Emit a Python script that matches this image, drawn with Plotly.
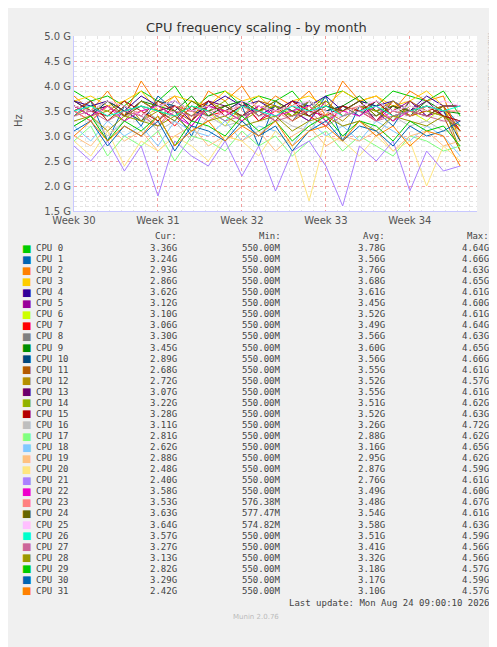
import plotly.graph_objects as go

# days since start of week 30, one sample every ~1.4 days
days = [i * 1.4 for i in range(24)]

names = ["CPU %d" % i for i in range(32)]
colors = ["#00CC00", "#0066B3", "#FF8000", "#FFCC00", "#330099", "#990099", "#CCFF00", "#FF0000",
          "#808080", "#008F00", "#00487D", "#B35A00", "#B38F00", "#6B006B", "#8FB300", "#B30000",
          "#BEBEBE", "#80FF80", "#80C9FF", "#FFC080", "#FFE680", "#AA80FF", "#EE00CC", "#FF8080",
          "#666600", "#FFBFFF", "#00FFCC", "#CC6699", "#999900", "#00CC00", "#0066B3", "#FF8000"]

# GHz
cpu_vals = [
    [3.9, 3.7, 3.8, 3.6, 3.9, 3.7, 4.0, 3.5, 3.8, 3.9, 3.6, 3.8, 3.7, 3.9, 3.5, 3.8, 3.9, 3.7, 3.6, 3.9, 3.8, 3.7, 3.9, 3.4],
    [3.4, 3.7, 2.9, 3.6, 3.2, 3.8, 3.5, 3.0, 3.7, 3.4, 3.6, 2.8, 3.7, 3.5, 3.3, 3.8, 2.9, 3.6, 3.5, 3.2, 3.7, 3.4, 3.6, 3.2],
    [3.8, 3.5, 3.9, 3.4, 4.1, 3.6, 3.8, 3.3, 3.9, 3.7, 4.0, 3.5, 3.8, 3.6, 3.9, 3.4, 4.1, 3.7, 3.8, 3.5, 3.9, 3.7, 3.8, 2.9],
    [3.7, 3.8, 3.6, 3.7, 3.9, 3.5, 3.8, 3.7, 3.6, 3.9, 3.7, 3.8, 3.5, 3.7, 3.8, 3.6, 3.9, 3.7, 3.8, 3.6, 3.7, 3.9, 3.6, 2.9],
    [3.7, 3.6, 3.7, 3.5, 3.8, 3.6, 3.7, 3.5, 3.6, 3.8, 3.6, 3.7, 3.5, 3.7, 3.6, 3.8, 3.5, 3.7, 3.6, 3.7, 3.5, 3.8, 3.6, 3.6],
    [3.5, 3.7, 3.3, 3.6, 3.4, 3.7, 3.5, 3.2, 3.6, 3.4, 3.7, 3.3, 3.6, 3.5, 3.3, 3.7, 3.4, 3.6, 3.3, 3.5, 3.7, 3.4, 3.5, 3.1],
    [3.6, 3.4, 3.7, 3.5, 3.3, 3.6, 3.4, 3.7, 3.5, 3.2, 3.6, 3.5, 3.7, 3.4, 3.6, 3.3, 3.5, 3.7, 3.4, 3.6, 3.5, 3.3, 3.6, 3.1],
    [3.5, 3.3, 3.6, 3.4, 3.7, 3.5, 3.2, 3.6, 3.4, 3.5, 3.7, 3.3, 3.5, 3.6, 3.4, 3.2, 3.6, 3.5, 3.3, 3.7, 3.4, 3.5, 3.6, 3.1],
    [3.6, 3.4, 3.7, 3.5, 3.6, 3.3, 3.7, 3.5, 3.4, 3.6, 3.7, 3.4, 3.6, 3.5, 3.7, 3.3, 3.6, 3.5, 3.4, 3.7, 3.5, 3.6, 3.4, 3.3],
    [3.7, 3.5, 3.6, 3.4, 3.7, 3.6, 3.5, 3.8, 3.4, 3.6, 3.7, 3.5, 3.6, 3.4, 3.7, 3.5, 3.6, 3.8, 3.5, 3.6, 3.4, 3.7, 3.5, 3.45],
    [3.6, 3.4, 3.7, 3.5, 3.3, 3.7, 3.6, 3.4, 3.6, 3.5, 3.7, 3.4, 3.6, 3.3, 3.7, 3.5, 3.6, 3.4, 3.7, 3.5, 3.4, 3.6, 3.5, 2.9],
    [3.5, 3.7, 3.3, 3.6, 3.4, 3.7, 3.5, 3.3, 3.6, 3.5, 3.4, 3.7, 3.6, 3.3, 3.5, 3.7, 3.4, 3.6, 3.5, 3.3, 3.7, 3.5, 3.4, 2.7],
    [3.6, 3.4, 3.5, 3.7, 3.3, 3.5, 3.6, 3.4, 3.7, 3.5, 3.3, 3.6, 3.5, 3.4, 3.7, 3.5, 3.3, 3.6, 3.5, 3.7, 3.4, 3.5, 3.6, 2.7],
    [3.7, 3.5, 3.6, 3.4, 3.7, 3.5, 3.6, 3.3, 3.7, 3.6, 3.4, 3.6, 3.5, 3.7, 3.4, 3.6, 3.5, 3.7, 3.3, 3.6, 3.5, 3.7, 3.4, 3.1],
    [3.4, 3.6, 3.5, 3.3, 3.7, 3.5, 3.4, 3.6, 3.5, 3.7, 3.3, 3.5, 3.6, 3.4, 3.5, 3.7, 3.4, 3.6, 3.5, 3.3, 3.6, 3.5, 3.4, 3.2],
    [3.6, 3.5, 3.4, 3.7, 3.5, 3.3, 3.6, 3.5, 3.7, 3.4, 3.6, 3.5, 3.3, 3.7, 3.5, 3.4, 3.6, 3.5, 3.7, 3.4, 3.5, 3.6, 3.4, 3.3],
    [3.2, 3.4, 3.0, 3.3, 3.5, 3.1, 3.3, 2.9, 3.4, 3.2, 3.3, 3.0, 3.4, 3.2, 3.1, 3.5, 3.2, 3.3, 3.0, 3.4, 3.2, 3.3, 3.1, 3.1],
    [2.9, 3.2, 2.6, 3.0, 2.8, 3.1, 2.5, 3.0, 2.9, 2.7, 3.1, 2.8, 3.0, 2.6, 2.9, 3.1, 2.7, 3.0, 2.8, 2.6, 3.0, 2.9, 2.7, 2.8],
    [3.2, 2.9, 3.3, 3.0, 3.2, 2.8, 3.3, 3.1, 3.0, 3.3, 2.9, 3.2, 3.1, 2.8, 3.3, 3.0, 3.2, 2.9, 3.3, 3.1, 2.9, 3.2, 3.0, 2.6],
    [3.0, 2.8, 3.2, 2.9, 3.1, 2.7, 3.0, 3.2, 2.8, 3.0, 2.9, 3.1, 2.7, 3.0, 3.2, 2.8, 3.0, 2.9, 3.1, 2.7, 3.0, 3.1, 2.8, 2.9],
    [2.9, 2.6, 3.1, 2.4, 2.9, 2.7, 3.0, 2.8, 2.5, 3.0, 2.9, 2.6, 3.1, 2.8, 1.7, 3.0, 2.9, 2.6, 3.0, 2.7, 2.9, 2.0, 2.8, 2.5],
    [2.8, 2.5, 2.9, 2.3, 2.8, 1.8, 2.9, 2.6, 2.4, 2.9, 2.2, 2.8, 1.9, 2.7, 2.9, 2.4, 1.6, 2.8, 2.5, 2.9, 1.9, 2.7, 2.3, 2.4],
    [3.6, 3.4, 3.6, 3.3, 3.5, 3.6, 3.4, 3.2, 3.6, 3.5, 3.3, 3.6, 3.4, 3.5, 3.6, 3.3, 3.5, 3.4, 3.6, 3.3, 3.5, 3.4, 3.6, 3.6],
    [3.5, 3.3, 3.6, 3.4, 3.5, 3.2, 3.6, 3.5, 3.3, 3.5, 3.6, 3.4, 3.5, 3.3, 3.6, 3.4, 3.5, 3.6, 3.3, 3.5, 3.4, 3.6, 3.5, 3.5],
    [3.6, 3.5, 3.7, 3.4, 3.6, 3.5, 3.3, 3.7, 3.5, 3.6, 3.4, 3.5, 3.7, 3.5, 3.4, 3.6, 3.5, 3.7, 3.4, 3.6, 3.5, 3.4, 3.6, 3.6],
    [3.6, 3.5, 3.7, 3.6, 3.4, 3.6, 3.7, 3.5, 3.6, 3.4, 3.7, 3.6, 3.5, 3.6, 3.7, 3.5, 3.4, 3.6, 3.7, 3.5, 3.6, 3.5, 3.7, 3.6],
    [3.5, 3.6, 3.4, 3.5, 3.6, 3.5, 3.4, 3.6, 3.5, 3.3, 3.6, 3.5, 3.4, 3.6, 3.5, 3.6, 3.4, 3.5, 3.6, 3.4, 3.5, 3.6, 3.5, 3.6],
    [3.4, 3.5, 3.3, 3.5, 3.4, 3.2, 3.5, 3.4, 3.5, 3.3, 3.4, 3.5, 3.3, 3.4, 3.5, 3.2, 3.4, 3.5, 3.3, 3.4, 3.5, 3.4, 3.3, 3.3],
    [3.3, 3.4, 3.1, 3.4, 3.3, 3.2, 3.4, 3.1, 3.3, 3.4, 3.2, 3.3, 3.4, 3.1, 3.3, 3.4, 3.2, 3.3, 3.1, 3.4, 3.3, 3.2, 3.4, 3.1],
    [3.2, 3.4, 2.9, 3.3, 3.1, 3.4, 2.8, 3.3, 3.2, 3.0, 3.4, 3.1, 3.3, 2.9, 3.2, 3.4, 3.0, 3.3, 3.2, 2.9, 3.3, 3.1, 3.2, 2.8],
    [3.1, 3.3, 2.8, 3.2, 3.0, 3.3, 2.7, 3.2, 3.1, 2.9, 3.3, 3.0, 3.2, 2.7, 3.1, 3.3, 2.9, 3.2, 3.1, 2.8, 3.2, 3.0, 3.1, 3.3],
    [3.0, 3.3, 2.9, 3.2, 3.0, 3.4, 2.8, 3.1, 3.3, 2.9, 3.2, 3.0, 3.3, 2.8, 3.1, 3.2, 2.9, 3.3, 3.0, 3.2, 2.8, 3.1, 3.0, 2.4],
]

cur = ["3.36G", "3.24G", "2.93G", "2.86G", "3.62G", "3.12G", "3.10G", "3.06G", "3.30G", "3.45G", "2.89G",
       "2.68G", "2.72G", "3.07G", "3.22G", "3.28G", "3.11G", "2.81G", "2.62G", "2.88G", "2.48G", "2.40G",
       "3.58G", "3.53G", "3.63G", "3.64G", "3.57G", "3.27G", "3.13G", "2.82G", "3.29G", "2.42G"]
mins = ["550.00M"] * 32
mins[23] = "576.38M"
mins[24] = "577.47M"
mins[25] = "574.82M"
avgs = ["3.78G", "3.56G", "3.76G", "3.68G", "3.61G", "3.45G", "3.52G", "3.49G", "3.56G", "3.60G", "3.56G",
        "3.55G", "3.52G", "3.55G", "3.51G", "3.52G", "3.26G", "2.88G", "3.16G", "2.95G", "2.87G", "2.76G",
        "3.49G", "3.48G", "3.54G", "3.58G", "3.51G", "3.41G", "3.32G", "3.18G", "3.17G", "3.10G"]
maxs = ["4.64G", "4.66G", "4.63G", "4.65G", "4.61G", "4.60G", "4.61G", "4.64G", "4.63G", "4.65G", "4.66G",
        "4.61G", "4.57G", "4.61G", "4.62G", "4.63G", "4.72G", "4.62G", "4.65G", "4.62G", "4.59G", "4.61G",
        "4.60G", "4.67G", "4.61G", "4.63G", "4.59G", "4.56G", "4.56G", "4.57G", "4.59G", "4.57G"]

week_ticks = [0, 7, 14, 21, 28]
week_labels = ["Week 30", "Week 31", "Week 32", "Week 33", "Week 34"]
y_ticks = [1.5, 2.0, 2.5, 3.0, 3.5, 4.0, 4.5, 5.0]

L, R, T, B = 66, 469, 28, 203
W, H = 497, 647

fig = go.Figure()
for i in range(32):
    fig.add_trace(go.Scatter(x=days, y=cpu_vals[i], mode="lines", name=names[i],
                             line=dict(color=colors[i], width=1), showlegend=False))

fig.update_layout(
    width=W, height=H, paper_bgcolor="#F0F0F0", plot_bgcolor="white",
    margin=dict(l=L, r=W - R, t=T, b=H - B, autoexpand=False),
    font=dict(family="DejaVu Sans", size=10, color="#555555"),
    xaxis=dict(range=[0, 33.6], tickvals=week_ticks, ticktext=week_labels, showgrid=True,
               gridcolor="#F0A0A0", griddash="dot", gridwidth=1, zeroline=False, automargin=False,
               showline=True, linecolor="#C8C8FF", ticks="", tickfont=dict(size=10),
               minor=dict(dtick=1, showgrid=True, gridcolor="#E4E4E4", griddash="dot")),
    yaxis=dict(range=[1.5, 5.0], tickvals=y_ticks, ticktext=["%.1f G" % v for v in y_ticks],
               showgrid=True, gridcolor="#F0A0A0", griddash="dot", zeroline=False, automargin=False,
               showline=True, linecolor="#C8C8FF", ticks="",
               minor=dict(dtick=0.1, showgrid=True, gridcolor="#E4E4E4", griddash="dot")),
    showlegend=False,
)

def px_x(x):
    return (x - L) / (R - L)

def px_y(y):
    return (B - y) / (B - T)

ann = []
ann.append(dict(x=px_x(248), y=px_y(19), text="CPU frequency scaling - by month", showarrow=False,
                font=dict(size=13, color="#333333"), xanchor="center", yanchor="middle"))
ann.append(dict(x=px_x(10), y=px_y(113), text="Hz", showarrow=False, textangle=-90,
                font=dict(size=10, color="#555555"), xanchor="center", yanchor="middle"))
ann.append(dict(x=px_x(482), y=px_y(63), text="RRDTOOL / TOBI OETIKER", showarrow=False, textangle=90,
                font=dict(size=6, color="#BBBBBB"), xanchor="center", yanchor="middle"))
mono = dict(family="DejaVu Sans Mono", size=9, color="#444444")
col_right = [171, 275, 379, 483]
for c, lab in zip(col_right, ["Cur:", "Min:", "Avg:", "Max:"]):
    ann.append(dict(x=px_x(c), y=px_y(228), text=lab, showarrow=False, font=mono,
                    xanchor="right", yanchor="middle"))
for i in range(32):
    yy = px_y(240 + i * 11.06)
    ann.append(dict(x=px_x(12), y=yy, text="■", showarrow=False,
                    font=dict(family="DejaVu Sans", size=10, color=colors[i]), xanchor="left", yanchor="middle"))
    ann.append(dict(x=px_x(26), y=yy, text=names[i], showarrow=False, font=mono,
                    xanchor="left", yanchor="middle"))
    for c, v in zip(col_right, [cur[i], mins[i], avgs[i], maxs[i]]):
        ann.append(dict(x=px_x(c), y=yy, text=v, showarrow=False, font=mono,
                        xanchor="right", yanchor="middle"))
ann.append(dict(x=px_x(483), y=px_y(595), text="Last update: Mon Aug 24 09:00:10 2026", showarrow=False,
                font=mono, xanchor="right", yanchor="middle"))
ann.append(dict(x=px_x(248), y=px_y(609), text="Munin 2.0.76", showarrow=False,
                font=dict(family="DejaVu Sans", size=7, color="#BBBBBB"), xanchor="center", yanchor="middle"))
for a in ann:
    a["xref"] = "paper"
    a["yref"] = "paper"
fig.update_layout(annotations=ann)

fig.write_html("out.html")
